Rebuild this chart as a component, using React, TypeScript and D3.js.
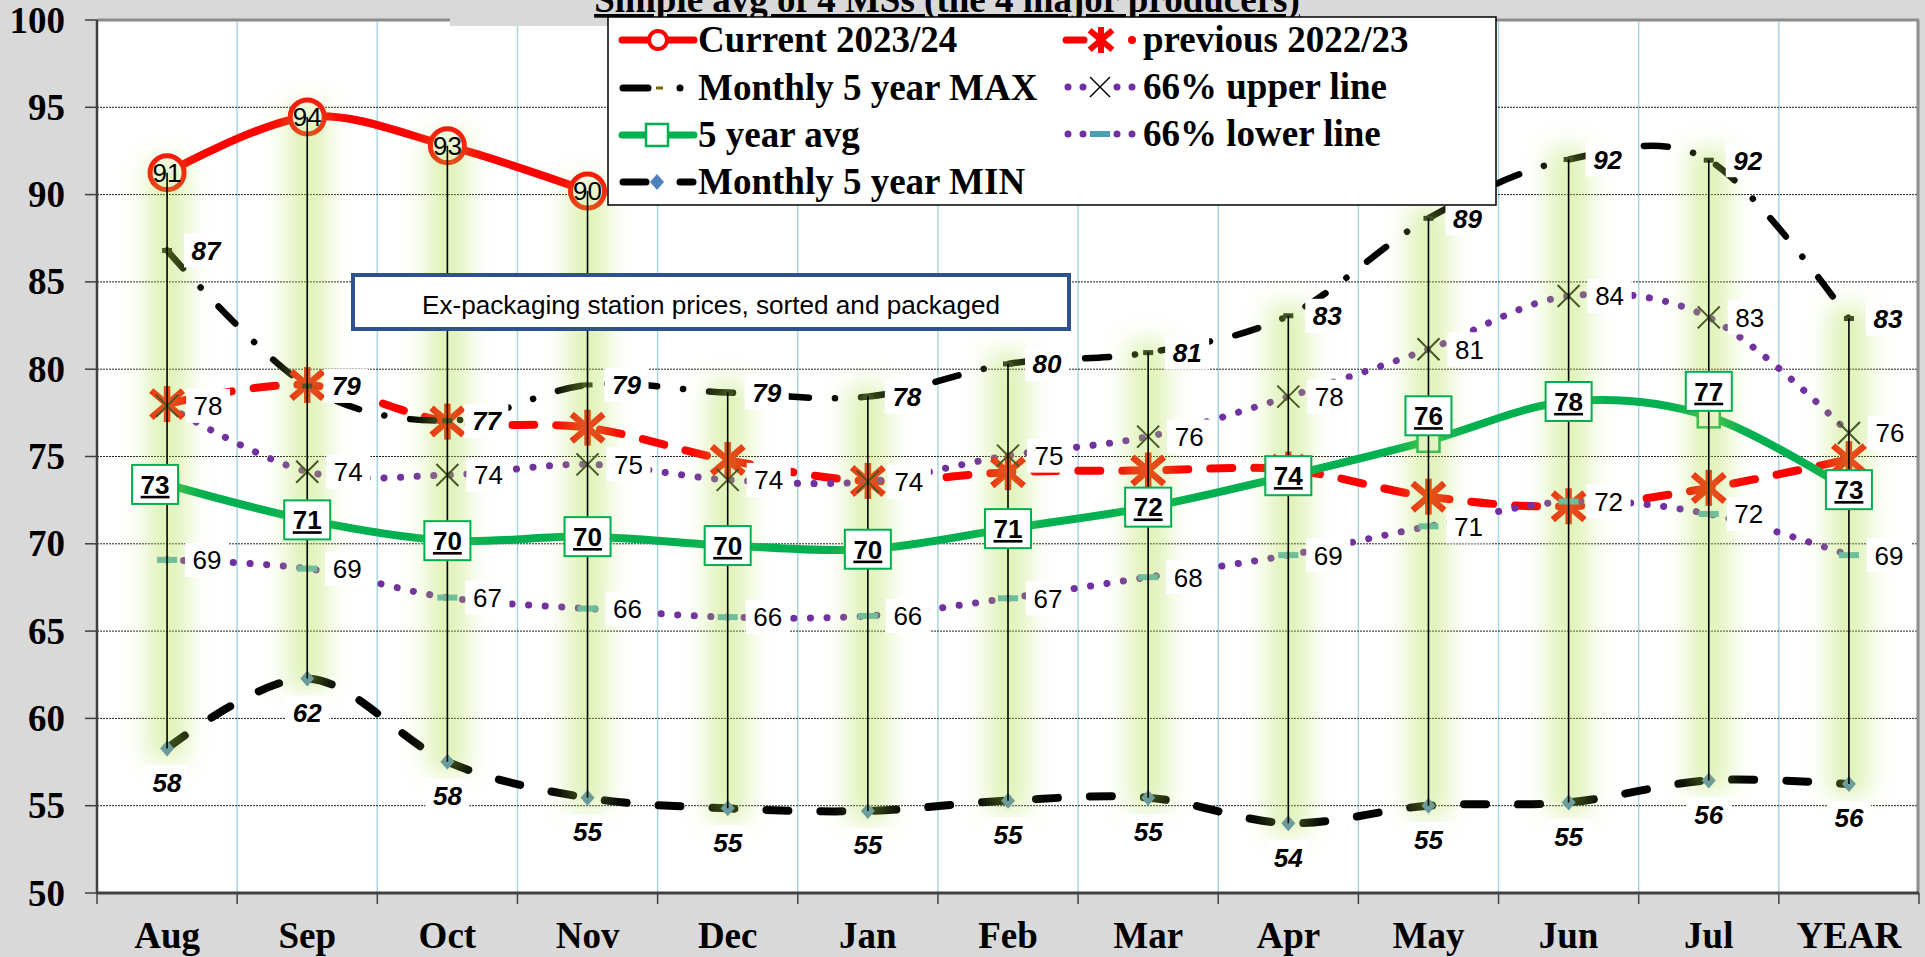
import * as d3 from "d3";

// categories and series
const months = ["Aug", "Sep", "Oct", "Nov", "Dec", "Jan", "Feb", "Mar", "Apr", "May", "Jun", "Jul", "YEAR"];
const current2324: (number | null)[] = [91.25, 94.45, 92.8, 90.2, null, null, null, null, null, null, null, null, null];
const previous2223 = [78.0, 79.1, 77.0, 76.65, 74.8, 73.6, 74.1, 74.2, 74.25, 72.7, 72.15, 73.2, 74.85];
const max5y = [86.8, 79.04, 77.05, 79.1, 78.66, 78.43, 80.3, 80.95, 83.06, 88.64, 92.01, 91.97, 82.9];
const upper66 = [77.9, 74.13, 73.94, 74.55, 73.66, 73.56, 75.05, 76.14, 78.43, 81.14, 84.19, 82.97, 76.35];
const avg5y = [73.4, 71.37, 70.18, 70.41, 69.9, 69.69, 70.87, 72.1, 73.9, 75.9, 78.15, 77.3, 73.1];
const lower66 = [69.08, 68.58, 66.92, 66.29, 65.8, 65.87, 66.88, 68.09, 69.35, 71.0, 72.42, 71.71, 69.35];
const min5y = [58.28, 62.29, 57.52, 55.45, 54.85, 54.7, 55.29, 55.46, 54.0, 55.0, 55.19, 56.45, 56.24];
const yTicks = [50, 55, 60, 65, 70, 75, 80, 85, 90, 95, 100];

const title = "Simple avg of 4 MSs (the 4 major producers)";
const note = "Ex-packaging station prices, sorted and packaged";
const avgLabelAbove = ["May", "Jul"];

const W = 1925, H = 957;
const plot = { left: 97, right: 1919, top: 20, bottom: 893 };
const SERIF = "'Liberation Serif', 'Times New Roman', serif";
const SANS = "'Liberation Sans', Arial, sans-serif";
const fmt = d3.format(".0f");

const Lab = ({ x, y, t, bold, italic }: any) => (
  <g>
    <rect x={x - 22} y={y - 17} width={44} height={34} fill="#fff" />
    <text x={x} y={y} dy="0.36em" textAnchor="middle" fontFamily={SANS} fontSize={26}
      fontWeight={bold ? "bold" : "normal"} fontStyle={italic ? "italic" : "normal"} fill="#000">{t}</text>
  </g>
);

const Star = ({ x, y, s, color, w }: any) => (
  <g stroke={color} strokeWidth={w}>
    <line x1={x} y1={y - s} x2={x} y2={y + s} />
    <line x1={x - s * 0.88} y1={y - s * 0.75} x2={x + s * 0.88} y2={y + s * 0.75} />
    <line x1={x - s * 0.88} y1={y + s * 0.75} x2={x + s * 0.88} y2={y - s * 0.75} />
  </g>
);

const Cross = ({ x, y, s, color, w }: any) => (
  <g stroke={color} strokeWidth={w}>
    <line x1={x - s} y1={y - s} x2={x + s} y2={y + s} />
    <line x1={x - s} y1={y + s} x2={x + s} y2={y - s} />
  </g>
);

export default function App() {
  const x = d3.scaleBand().domain(months).range([plot.left, plot.right]).padding(0);
  const cx = (m: string) => (x(m) as number) + x.bandwidth() / 2;
  const y = d3.scaleLinear().domain([50, 100]).range([plot.bottom, plot.top]);
  const curve = d3.curveCardinal.tension(0);
  const path = (vals: (number | null)[]) =>
    d3.line<number | null>()
      .defined((v) => v != null)
      .x((_, i) => cx(months[i]))
      .y((v) => y(v as number))
      .curve(curve)(vals) || "";

  const allSeries = [current2324, previous2223, max5y, upper66, avg5y, lower66, min5y];
  const hiLo = months.map((m, i) => {
    const vs = allSeries.map((s) => s[i]).filter((v) => v != null) as number[];
    return { m, top: y(d3.max(vs)!), bot: y(d3.min(vs)!) };
  });

  const edges = months.map((m) => x(m) as number).concat([plot.right]);

  return (
    <svg width={W} height={H} style={{ position: "absolute", left: 0, top: 0 }}>
      <defs>
        <filter id="glow" x="-200%" y="-20%" width="500%" height="140%">
          <feGaussianBlur stdDeviation="12" />
        </filter>
      </defs>
      <rect x={0} y={0} width={W} height={H} fill="#d9d9d9" />
      <rect x={plot.left} y={plot.top} width={plot.right - plot.left} height={plot.bottom - plot.top} fill="#fff" />

      {/* gridlines */}
      {edges.slice(1, -1).map((e, i) => (
        <line key={"vg" + i} x1={e} x2={e} y1={plot.top} y2={plot.bottom} stroke="#a9d6e3" strokeWidth={1.5} />
      ))}
      {yTicks.filter((t) => t > 50 && t < 100).map((t) => (
        <line key={"hg" + t} x1={plot.left} x2={plot.right} y1={y(t)} y2={y(t)} stroke="#222" strokeWidth={1} strokeDasharray="2,1" />
      ))}

      {/* axes */}
      <line x1={plot.left} x2={plot.right} y1={plot.top} y2={plot.top} stroke="#8c8c8c" strokeWidth={3} />
      <line x1={plot.right - 1} x2={plot.right - 1} y1={plot.top} y2={plot.bottom} stroke="#8c8c8c" strokeWidth={3} />
      <line x1={plot.left} x2={plot.left} y1={plot.top} y2={plot.bottom + 1} stroke="#404040" strokeWidth={2.5} />
      <line x1={plot.left} x2={plot.right} y1={plot.bottom} y2={plot.bottom} stroke="#404040" strokeWidth={3} />
      {yTicks.map((t) => (
        <g key={"yt" + t}>
          <line x1={plot.left - 12} x2={plot.left} y1={y(t)} y2={y(t)} stroke="#404040" strokeWidth={1.5} />
          <text x={65} y={y(t)} dy="0.34em" textAnchor="end" fontFamily={SERIF} fontWeight="bold" fontSize={37}>{t}</text>
        </g>
      ))}
      {edges.map((e, i) => (
        <line key={"xt" + i} x1={e} x2={e} y1={plot.bottom} y2={plot.bottom + 11} stroke="#404040" strokeWidth={1.5} />
      ))}
      {months.map((m) => (
        <text key={"xl" + m} x={cx(m)} y={948} textAnchor="middle" fontFamily={SERIF} fontWeight="bold" fontSize={37}>{m}</text>
      ))}

      {/* series lines */}
      <path d={path(current2324)} fill="none" stroke="#ff0000" strokeWidth={8} strokeLinecap="round" />
      <path d={path(previous2223)} fill="none" stroke="#ff0000" strokeWidth={8} strokeLinecap="round" strokeDasharray="22,22" />
      <path d={path(max5y)} fill="none" stroke="#000" strokeWidth={6.5} strokeLinecap="round" strokeDasharray="24,26,0.1,26" />
      <path d={path(upper66)} fill="none" stroke="#7030a0" strokeWidth={7} strokeLinecap="round" strokeDasharray="0.1,16.5" />
      <path d={path(avg5y)} fill="none" stroke="#00b050" strokeWidth={8} strokeLinecap="round" />
      <path d={path(lower66)} fill="none" stroke="#7030a0" strokeWidth={7} strokeLinecap="round" strokeDasharray="0.1,16.5" />
      <path d={path(min5y)} fill="none" stroke="#000" strokeWidth={8} strokeLinecap="round" strokeDasharray="22,32" />

      {/* markers */}
      {current2324.map((v, i) => v == null ? null : (
        <circle key={"cm" + i} cx={cx(months[i])} cy={y(v)} r={17} fill="#fff" stroke="#ff0000" strokeWidth={5} />
      ))}
      {previous2223.map((v, i) => (
        <Star key={"pm" + i} x={cx(months[i])} y={y(v)} s={18} color="#ff0000" w={6.5} />
      ))}
      {max5y.map((v, i) => (
        <rect key={"xm" + i} x={cx(months[i]) - 5} y={y(v) - 2.5} width={10} height={5} fill="#111" />
      ))}
      {upper66.map((v, i) => (
        <Cross key={"um" + i} x={cx(months[i])} y={y(v)} s={11} color="#111" w={2} />
      ))}
      {avg5y.map((v, i) => (
        <rect key={"am" + i} x={cx(months[i]) - 11} y={y(v) - 11} width={22} height={22} fill="#fff" stroke="#00b050" strokeWidth={2.5} />
      ))}
      {lower66.map((v, i) => (
        <rect key={"lm" + i} x={cx(months[i]) - 10} y={y(v) - 3} width={20} height={6} fill="#4bacc6" />
      ))}
      {min5y.map((v, i) => {
        const px = cx(months[i]), py = y(v);
        return <path key={"nm" + i} d={`M${px},${py - 8}L${px + 7},${py}L${px},${py + 8}L${px - 7},${py}Z`} fill="#4f81bd" />;
      })}

      {/* glow of the high-low lines */}
      {hiLo.map((d) => (
        <rect key={"gl" + d.m} x={cx(d.m) - 20} y={d.top - 12} width={40} height={d.bot - d.top + 24}
          fill="#b0de4a" fillOpacity={0.4} filter="url(#glow)" />
      ))}
      {hiLo.map((d) => (
        <line key={"hl" + d.m} x1={cx(d.m)} x2={cx(d.m)} y1={d.top} y2={d.bot} stroke="#000" strokeWidth={1.6} />
      ))}

      {/* data labels */}
      {current2324.map((v, i) => v == null ? null : (
        <text key={"cl" + i} x={cx(months[i])} y={y(v)} dy="0.36em" textAnchor="middle" fontFamily={SANS} fontSize={26}>{fmt(v)}</text>
      ))}
      {max5y.map((v, i) => (
        <Lab key={"xl" + i} x={cx(months[i]) + 39} y={y(v)} t={fmt(v)} bold italic />
      ))}
      {upper66.map((v, i) => (
        <Lab key={"ul" + i} x={cx(months[i]) + 41} y={y(v)} t={fmt(v)} />
      ))}
      {avg5y.map((v, i) => {
        const m = months[i];
        const bx = cx(m) + (i === 0 ? -12 : 0);
        const by = y(v) - (avgLabelAbove.includes(m) ? 25 : 0);
        return (
          <g key={"al" + i}>
            <rect x={bx - 23} y={by - 19.5} width={46} height={39} fill="#fff" stroke="#00b050" strokeWidth={2} />
            <text x={bx} y={by} dy="0.36em" textAnchor="middle" fontFamily={SANS} fontSize={26} fontWeight="bold" textDecoration="underline">{fmt(v)}</text>
          </g>
        );
      })}
      {lower66.map((v, i) => (
        <Lab key={"ll" + i} x={cx(months[i]) + 40} y={y(v)} t={fmt(v)} />
      ))}
      {min5y.map((v, i) => (
        <Lab key={"nl" + i} x={cx(months[i])} y={y(v) + 34} t={fmt(v)} bold italic />
      ))}

      {/* annotation */}
      <rect x={353} y={275} width={716} height={54} fill="#fff" stroke="#2f528f" strokeWidth={4} />
      <text x={711} y={314} textAnchor="middle" fontFamily={SANS} fontSize={26} textLength={578} lengthAdjust="spacingAndGlyphs">{note}</text>

      {/* title */}
      <rect x={450} y={0} width={1046} height={26} fill="#d9d9d9" />
      <text x={947} y={12} textAnchor="middle" fontFamily={SERIF} fontWeight="bold" fontSize={37} textDecoration="underline">{title}</text>

      {/* legend */}
      <g>
        <rect x={608} y={17} width={888} height={188} fill="#fff" stroke="#000" strokeWidth={1.5} />
        <line x1={622} x2={694} y1={40} y2={40} stroke="#ff0000" strokeWidth={7} strokeLinecap="round" />
        <circle cx={658} cy={40} r={9} fill="#fff" stroke="#ff0000" strokeWidth={4} />
        <text x={698} y={52} fontFamily={SERIF} fontWeight="bold" fontSize={37}>Current 2023/24</text>

        <line x1={623} x2={648} y1={88} y2={88} stroke="#000" strokeWidth={7} strokeLinecap="round" />
        <rect x={656} y={86.5} width={7} height={3} fill="#7f6000" />
        <circle cx={680} cy={88} r={3.5} fill="#000" />
        <text x={698} y={100} fontFamily={SERIF} fontWeight="bold" fontSize={37}>Monthly 5 year MAX</text>

        <line x1={622} x2={694} y1={135} y2={135} stroke="#00b050" strokeWidth={7} strokeLinecap="round" />
        <rect x={646} y={124} width={22} height={22} fill="#fff" stroke="#00b050" strokeWidth={2.5} />
        <text x={698} y={147} fontFamily={SERIF} fontWeight="bold" fontSize={37}>5 year avg</text>

        <line x1={623} x2={646} y1={182} y2={182} stroke="#000" strokeWidth={7} strokeLinecap="round" />
        <path d="M657,174L664,182L657,190L650,182Z" fill="#4f81bd" />
        <line x1={680} x2={693} y1={182} y2={182} stroke="#000" strokeWidth={7} strokeLinecap="round" />
        <text x={698} y={194} fontFamily={SERIF} fontWeight="bold" fontSize={37}>Monthly 5 year MIN</text>

        <line x1={1066} x2={1084} y1={40} y2={40} stroke="#ff0000" strokeWidth={7} strokeLinecap="round" />
        <Star x={1101} y={40} s={13} color="#ff0000" w={6} />
        <circle cx={1132} cy={40} r={4} fill="#ff0000" />
        <text x={1143} y={52} fontFamily={SERIF} fontWeight="bold" fontSize={37}>previous 2022/23</text>

        {[1068, 1083, 1117, 1132].map((d) => <circle key={"ud" + d} cx={d} cy={87} r={3.5} fill="#7030a0" />)}
        <Cross x={1100} y={87} s={10} color="#000" w={1.5} />
        <text x={1143} y={99} fontFamily={SERIF} fontWeight="bold" fontSize={37}>66% upper line</text>

        {[1068, 1083, 1117, 1132].map((d) => <circle key={"ld" + d} cx={d} cy={134} r={3.5} fill="#7030a0" />)}
        <rect x={1090} y={131} width={20} height={6} fill="#4a9fb5" />
        <text x={1143} y={146} fontFamily={SERIF} fontWeight="bold" fontSize={37}>66% lower line</text>
      </g>
    </svg>
  );
}
